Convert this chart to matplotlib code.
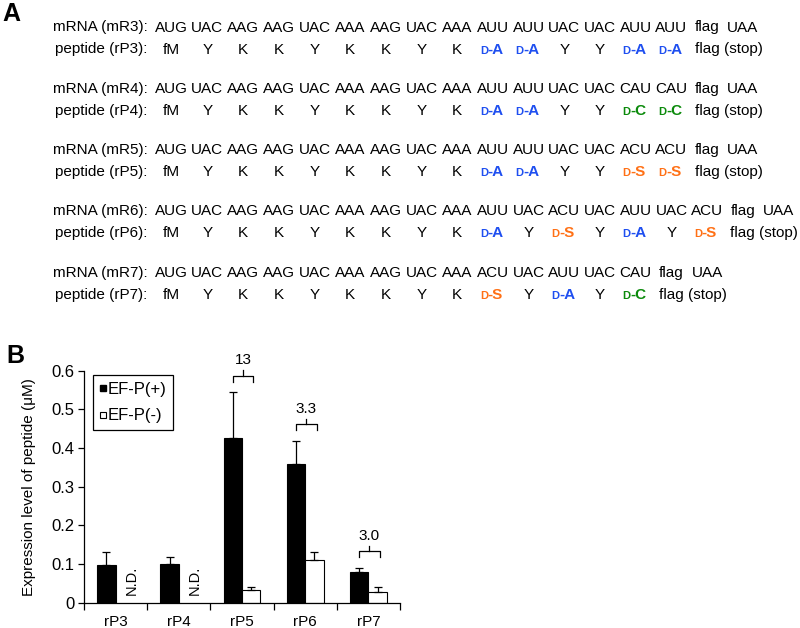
import numpy as np
import matplotlib
matplotlib.use("Agg")
import matplotlib.pyplot as plt
from matplotlib.lines import Line2D

plt.rcParams['font.family'] = ['Liberation Sans', 'DejaVu Sans']

# ---------------- data ----------------
prefix_codons = ["AUG", "UAC", "AAG", "AAG", "UAC", "AAA", "AAG", "UAC", "AAA"]
prefix_aa = ["fM", "Y", "K", "K", "Y", "K", "K", "Y", "K"]

mrna_names = ["mRNA (mR3):", "mRNA (mR4):", "mRNA (mR5):", "mRNA (mR6):", "mRNA (mR7):"]
pep_names = ["peptide (rP3):", "peptide (rP4):", "peptide (rP5):", "peptide (rP6):", "peptide (rP7):"]

var_codons = [
    ["AUU", "AUU", "UAC", "UAC", "AUU", "AUU"],
    ["AUU", "AUU", "UAC", "UAC", "CAU", "CAU"],
    ["AUU", "AUU", "UAC", "UAC", "ACU", "ACU"],
    ["AUU", "UAC", "ACU", "UAC", "AUU", "UAC", "ACU"],
    ["ACU", "UAC", "AUU", "UAC", "CAU"],
]
var_aa = [
    ["dA", "dA", "Y", "Y", "dA", "dA"],
    ["dA", "dA", "Y", "Y", "dC", "dC"],
    ["dA", "dA", "Y", "Y", "dS", "dS"],
    ["dA", "Y", "dS", "Y", "dA", "Y", "dS"],
    ["dS", "Y", "dA", "Y", "dC"],
]

categories = ["rP3", "rP4", "rP5", "rP6", "rP7"]
efp_plus = [0.097, 0.099, 0.426, 0.358, 0.079]
efp_plus_err = [0.033, 0.018, 0.119, 0.061, 0.012]
efp_minus = [np.nan, np.nan, 0.033, 0.110, 0.027]
efp_minus_err = [np.nan, np.nan, 0.008, 0.020, 0.014]
fold_change = {"rP5": "13", "rP6": "3.3", "rP7": "3.0"}
nd_categories = ["rP3", "rP4"]

# ---------------- figure ----------------
W, H = 800, 628
fig = plt.figure(figsize=(W / 100, H / 100), dpi=100)


def fx(px):
    return px / W


def fy(py):
    return 1 - py / H


daa_colors = {"A": "#1f4ff0", "C": "#0b8a0b", "S": "#ff7015"}

FS = 11
col0, dcol = 171.7, 35.7
mrna_base0, block_step, pep_gap = 31.5, 61.3, 22.0

fig.text(fx(2), fy(21), "A", fontsize=18, fontweight='bold', ha='left', va='baseline')

for r in range(5):
    yb_m = mrna_base0 + r * block_step
    yb_p = yb_m + pep_gap
    fig.text(fx(148), fy(yb_m), mrna_names[r], fontsize=FS, ha='right', va='baseline')
    fig.text(fx(147), fy(yb_p), pep_names[r], fontsize=FS, ha='right', va='baseline')
    codons = prefix_codons + var_codons[r]
    aas = prefix_aa + var_aa[r]
    for i, (c, a) in enumerate(zip(codons, aas)):
        x = col0 + i * dcol
        fig.text(fx(x), fy(yb_m), c, fontsize=FS, ha='center', va='baseline')
        if a.startswith("d"):
            letter = a[1]
            colr = daa_colors[letter]
            fig.text(fx(x - 5), fy(yb_p), "D", fontsize=8, fontweight='bold',
                     color=colr, ha='right', va='baseline')
            fig.text(fx(x - 5.5), fy(yb_p), "-" + letter, fontsize=FS, fontweight='bold',
                     color=colr, ha='left', va='baseline')
        else:
            fig.text(fx(x), fy(yb_p), a, fontsize=FS, ha='center', va='baseline')
    nf = len(codons)
    xf = col0 + nf * dcol - 12.5
    fig.text(fx(xf), fy(yb_m), "flag", fontsize=FS, ha='left', va='baseline')
    fig.text(fx(col0 + (nf + 1) * dcol), fy(yb_m), "UAA", fontsize=FS, ha='center', va='baseline')
    fig.text(fx(xf), fy(yb_p), "flag (stop)", fontsize=FS, ha='left', va='baseline')

# ---------------- panel B ----------------
fig.text(fx(6), fy(363), "B", fontsize=18, fontweight='bold', ha='left', va='baseline')

ax = fig.add_axes([84 / W, 1 - 602.7 / H, 316 / W, 232 / H])
xpos = np.arange(len(categories))
bw = 0.29
ax.bar(xpos - bw / 2, efp_plus, bw, color='black', edgecolor='black', linewidth=0.8,
       yerr=[np.zeros(len(efp_plus)), efp_plus_err], error_kw=dict(ecolor='black', elinewidth=0.9, capsize=3, capthick=0.9))
minus_arr = np.array(efp_minus, dtype=float)
merr = np.array(efp_minus_err, dtype=float)
mask = ~np.isnan(minus_arr)
ax.bar(xpos[mask] + bw / 2, minus_arr[mask], bw, color='white', edgecolor='black', linewidth=0.8,
       yerr=[np.zeros(mask.sum()), merr[mask]], error_kw=dict(ecolor='black', elinewidth=0.9, capsize=3, capthick=0.9))

for cat in nd_categories:
    i = categories.index(cat)
    ax.text(i + 0.253, 0.0587, "N.D.", rotation=90, fontsize=10.5, ha='center', va='center')

for cat, lab in fold_change.items():
    i = categories.index(cat)
    top = max(efp_plus[i] + efp_plus_err[i], (minus_arr[i] + merr[i]) if not np.isnan(minus_arr[i]) else 0)
    yend = top + 0.027
    yh = yend + 0.015
    x0, x1, xc = i - 0.15, i + 0.18, i + 0.015
    ax.plot([x0, x0, x1, x1], [yend, yh, yh, yend], color='black', lw=0.9, clip_on=False)
    ax.plot([xc, xc], [yh, yh + 0.014], color='black', lw=0.9, clip_on=False)
    ax.text(xc, yh + 0.04, lab, fontsize=FS, ha='center', va='center', clip_on=False)

ax.set_xlim(-0.5, len(categories) - 0.5)
ax.set_ylim(0, 0.6)
ax.spines['top'].set_visible(False)
ax.spines['right'].set_visible(False)
for s in ['left', 'bottom']:
    ax.spines[s].set_linewidth(0.9)
ax.set_yticks(np.arange(0, 0.61, 0.1))
ax.set_yticklabels(["0", "0.1", "0.2", "0.3", "0.4", "0.5", "0.6"])
ax.tick_params(axis='y', length=4, width=0.9, pad=3, labelsize=12)
ax.set_xticks(xpos)
ax.set_xticklabels(categories)
ax.tick_params(axis='x', which='major', length=0, pad=9, labelsize=FS)
ax.set_xticks(np.arange(-0.5, len(categories)), minor=True)
ax.tick_params(axis='x', which='minor', length=5, width=0.9, direction='out')
ax.set_ylabel("Expression level of peptide (\u03bcM)", fontsize=FS, labelpad=11)

handles = [Line2D([], [], marker='s', linestyle='none', markersize=5, markerfacecolor='black', markeredgecolor='black'),
           Line2D([], [], marker='s', linestyle='none', markersize=5, markerfacecolor='white', markeredgecolor='black', markeredgewidth=0.8)]
leg = ax.legend(handles, ["EF-P(+)", "EF-P(-)"], loc='upper left', bbox_to_anchor=(0.029, 0.981),
                borderaxespad=0, fontsize=12, handlelength=0.4, handletextpad=0.05, labelspacing=0.7,
                fancybox=False, edgecolor='black', framealpha=1, borderpad=0.4)
leg.get_frame().set_linewidth(0.9)

fig.savefig("out.png", dpi=100)
